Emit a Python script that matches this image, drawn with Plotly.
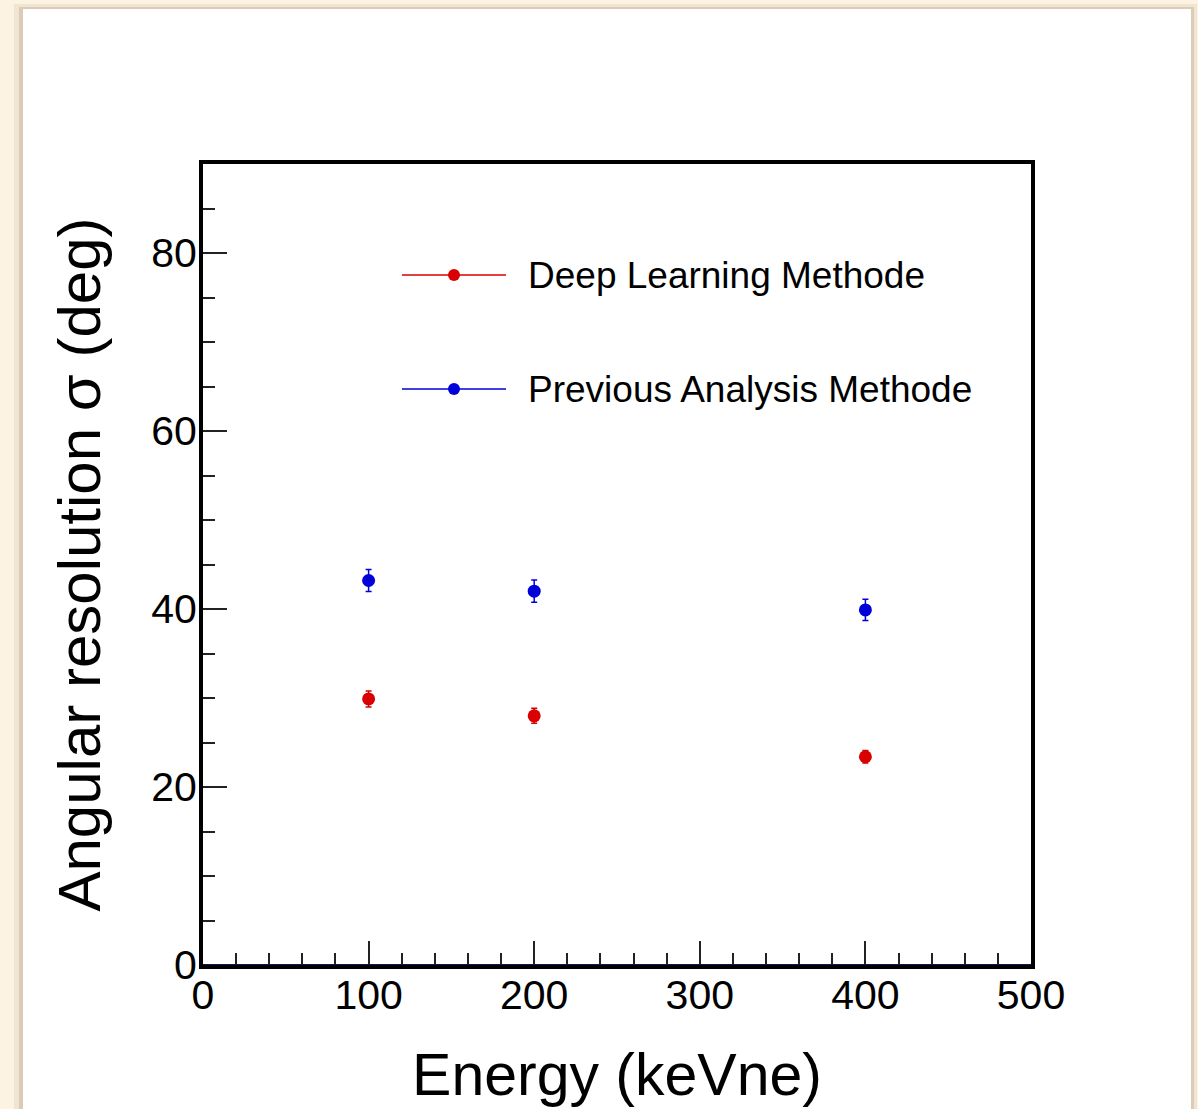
import plotly.graph_objects as go

energy = [100, 200, 400]
dl_sigma = [29.9, 28.0, 23.4]
dl_err = [0.9, 0.85, 0.7]
prev_sigma = [43.2, 42.0, 39.9]
prev_err = [1.23, 1.25, 1.2]
series_names = ["Deep Learning Methode", "Previous Analysis Methode"]
x_ticks = [0, 100, 200, 300, 400, 500]
y_ticks = [0, 20, 40, 60, 80]

RED = "#d80000"
BLUE = "#0000d8"
FONT = "Liberation Sans, Arial, Helvetica, sans-serif"

W, H = 1198, 1109
L, R, T, B = 203, 167, 164, 144
pw, ph = W - L - R, H - T - B

def px(x):
    return (x - L) / pw

def py(y):
    return (H - B - y) / ph

fig = go.Figure()
fig.add_trace(go.Scatter(
    x=energy, y=prev_sigma, mode="markers", name=series_names[1],
    marker=dict(color=BLUE, size=13),
    error_y=dict(type="data", array=prev_err, color=BLUE, thickness=1.5, width=3),
    showlegend=False))
fig.add_trace(go.Scatter(
    x=energy, y=dl_sigma, mode="markers", name=series_names[0],
    marker=dict(color=RED, size=13),
    error_y=dict(type="data", array=dl_err, color=RED, thickness=1.5, width=3),
    showlegend=False))

shapes = []
# shadow + white panel
shapes.append(dict(type="rect", xref="paper", yref="paper", layer="below",
                   x0=px(14), x1=px(1197), y0=-0.5, y1=py(4),
                   fillcolor="rgba(170,150,120,0.15)", line=dict(width=0)))
shapes.append(dict(type="rect", xref="paper", yref="paper", layer="below",
                   x0=px(19), x1=px(1194), y0=-0.5, y1=py(7),
                   fillcolor="rgba(150,130,100,0.25)", line=dict(width=0)))
shapes.append(dict(type="rect", xref="paper", yref="paper", layer="below",
                   x0=px(23), x1=px(1191), y0=-0.5, y1=py(9),
                   fillcolor="white", line=dict(width=0)))
# navy line at y=0
shapes.append(dict(type="line", xref="paper", yref="y", x0=0, x1=1, y0=0, y1=0,
                   line=dict(color="#12125e", width=2), layer="above"))

annotations = []
for name, col, yy in [(series_names[0], RED, 275), (series_names[1], BLUE, 389)]:
    shapes.append(dict(type="line", xref="paper", yref="paper",
                       x0=px(402), x1=px(506), y0=py(yy), y1=py(yy),
                       line=dict(color=col, width=1.5)))
    shapes.append(dict(type="circle", xref="paper", yref="paper",
                       xsizemode="pixel", ysizemode="pixel",
                       xanchor=px(454), yanchor=py(yy),
                       x0=-6, x1=6, y0=-6, y1=6,
                       fillcolor=col, line=dict(color=col, width=0)))
    annotations.append(dict(xref="paper", yref="paper", x=px(526), y=py(yy),
                            xanchor="left", yanchor="middle", showarrow=False,
                            text=name, font=dict(family=FONT, size=37, color="black")))

fig.update_layout(
    width=W, height=H,
    margin=dict(l=L, r=R, t=T, b=B),
    paper_bgcolor="#fdf3e2",
    plot_bgcolor="white",
    shapes=shapes,
    annotations=annotations,
    font=dict(family=FONT, color="black"),
    xaxis=dict(
        range=[0, 500], tickvals=x_ticks, ticktext=[str(v) for v in x_ticks],
        ticks="inside", ticklen=24, tickwidth=2, tickcolor="#222",
        minor=dict(dtick=20, ticks="inside", ticklen=12, tickwidth=2, tickcolor="#222"),
        showgrid=False, zeroline=False,
        showline=True, linecolor="black", linewidth=4, mirror=True,
        tickfont=dict(family=FONT, size=41, color="black"),
        ticklabelstandoff=-9,
        title=dict(text="Energy (keVne)", font=dict(family=FONT, size=59, color="black"), standoff=37),
    ),
    yaxis=dict(
        range=[0, 90], tickvals=y_ticks, ticktext=[str(v) for v in y_ticks],
        ticks="inside", ticklen=24, tickwidth=2, tickcolor="#222",
        minor=dict(dtick=5, ticks="inside", ticklen=12, tickwidth=2, tickcolor="#222"),
        showgrid=False, zeroline=False,
        showline=True, linecolor="black", linewidth=4, mirror=True,
        tickfont=dict(family=FONT, size=41, color="black"),
        ticklabelstandoff=-6,
        title=dict(text="Angular resolution σ (deg)", font=dict(family=FONT, size=60, color="black"), standoff=32),
    ),
)

fig.write_html("out.html", config={"displayModeBar": False},
               post_script="document.body.style.margin='0px';document.body.style.overflow='hidden';")
